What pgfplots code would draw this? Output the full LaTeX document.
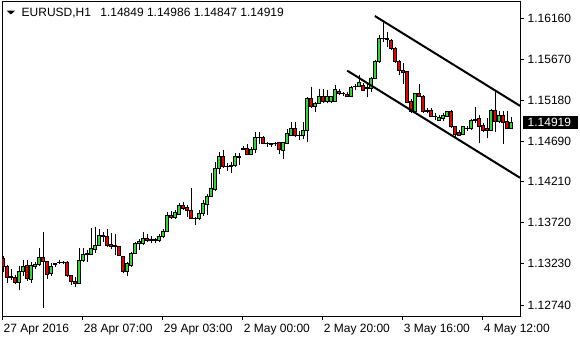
\documentclass[border=0pt]{standalone}
\usepackage{pgfplots}
\pgfplotsset{compat=1.18}
\usepackage{pgfplotstable}
\usepackage{fontspec}
\setmainfont{Liberation Sans}
\definecolor{bullc}{RGB}{50,215,50}
\definecolor{bearc}{RGB}{235,0,0}
\pgfplotsset{
  bull/.style={draw=black, fill=bullc, line width=0.8bp, solid},
  bear/.style={draw=black, fill=bearc, line width=0.8bp, solid},
}
\pgfplotstableread{
k O H L C
0 1.13300 1.13324 1.13133 1.13205
1 1.13205 1.13217 1.13002 1.13073
2 1.13073 1.13169 1.13038 1.13079
3 1.13073 1.13097 1.12990 1.13014
4 1.13014 1.13205 1.12918 1.13139
5 1.13139 1.13276 1.13085 1.13205
6 1.13217 1.13276 1.13026 1.13061
7 1.13050 1.13252 1.13002 1.13217
8 1.13205 1.13252 1.13169 1.13228
9 1.13223 1.13419 1.13205 1.13312
10 1.13306 1.13610 1.12704 1.13258
11 1.13258 1.13264 1.13050 1.13109
12 1.13121 1.13240 1.13085 1.13205
13 1.13228 1.13246 1.13193 1.13234
14 1.13252 1.13276 1.13228 1.13246
15 1.13246 1.13270 1.13234 1.13252
16 1.13252 1.13264 1.13079 1.13091
17 1.13091 1.13103 1.12978 1.13020
18 1.13026 1.13073 1.12948 1.13002
19 1.13002 1.13425 1.12990 1.13276
20 1.13270 1.13419 1.13252 1.13348
21 1.13348 1.13401 1.13252 1.13360
22 1.13342 1.13652 1.13336 1.13416
23 1.13401 1.13670 1.13360 1.13455
24 1.13449 1.13640 1.13443 1.13574
25 1.13563 1.13610 1.13491 1.13568
26 1.13554 1.13646 1.13435 1.13455
27 1.13467 1.13598 1.13407 1.13443
28 1.13443 1.13586 1.13336 1.13447
29 1.13435 1.13443 1.13324 1.13336
30 1.13316 1.13324 1.13118 1.13137
31 1.13137 1.13256 1.13085 1.13237
32 1.13217 1.13375 1.13196 1.13356
33 1.13356 1.13494 1.13348 1.13475
34 1.13475 1.13523 1.13396 1.13494
35 1.13475 1.13610 1.13455 1.13535
36 1.13535 1.13583 1.13487 1.13506
37 1.13521 1.13566 1.13475 1.13515
38 1.13515 1.13535 1.13475 1.13518
39 1.13506 1.13583 1.13494 1.13563
40 1.13554 1.13642 1.13539 1.13622
41 1.13622 1.13852 1.13614 1.13813
42 1.13813 1.13864 1.13765 1.13786
43 1.13786 1.13873 1.13765 1.13840
44 1.13821 1.13960 1.13813 1.13932
45 1.13932 1.13965 1.13873 1.13893
46 1.13900 1.13932 1.13793 1.13864
47 1.13873 1.14132 1.13762 1.13774
48 1.13777 1.13795 1.13694 1.13771
49 1.13774 1.13873 1.13753 1.13833
50 1.13831 1.13986 1.13801 1.13956
51 1.13944 1.14058 1.13813 1.14034
52 1.14031 1.14314 1.14028 1.14132
53 1.14120 1.14445 1.14103 1.14370
54 1.14370 1.14568 1.14302 1.14517
55 1.14517 1.14589 1.14374 1.14389
56 1.14392 1.14433 1.14342 1.14398
57 1.14389 1.14449 1.14318 1.14410
58 1.14401 1.14549 1.14389 1.14509
59 1.14501 1.14549 1.14410 1.14517
60 1.14594 1.14636 1.14589 1.14606
61 1.14609 1.14660 1.14529 1.14537
62 1.14537 1.14628 1.14525 1.14597
63 1.14597 1.14800 1.14549 1.14740
64 1.14738 1.14800 1.14660 1.14744
65 1.14740 1.14756 1.14657 1.14668
66 1.14672 1.14688 1.14628 1.14668
67 1.14660 1.14676 1.14628 1.14664
68 1.14664 1.14688 1.14636 1.14672
69 1.14676 1.14688 1.14541 1.14597
70 1.14580 1.14688 1.14478 1.14676
71 1.14668 1.14835 1.14660 1.14788
72 1.14767 1.14919 1.14759 1.14847
73 1.14847 1.14919 1.14747 1.14767
74 1.14767 1.14819 1.14708 1.14764
75 1.14767 1.14926 1.14716 1.14819
76 1.14819 1.15217 1.14688 1.15205
77 1.15205 1.15337 1.15090 1.15105
78 1.15105 1.15165 1.15045 1.15146
79 1.15146 1.15316 1.15137 1.15224
80 1.15224 1.15316 1.15153 1.15165
81 1.15165 1.15304 1.15146 1.15224
82 1.15165 1.15233 1.15153 1.15224
83 1.15165 1.15364 1.15161 1.15316
84 1.15292 1.15316 1.15245 1.15265
85 1.15265 1.15284 1.15236 1.15263
86 1.15253 1.15284 1.15224 1.15233
87 1.15224 1.15352 1.15217 1.15332
88 1.15344 1.15376 1.15304 1.15348
89 1.15344 1.15483 1.15336 1.15391
90 1.15364 1.15391 1.15296 1.15304
91 1.15328 1.15403 1.15217 1.15334
92 1.15325 1.15463 1.15284 1.15444
93 1.15444 1.15662 1.15436 1.15642
94 1.15642 1.15960 1.15630 1.15921
95 1.15919 1.16139 1.15877 1.15925
96 1.15919 1.15996 1.15821 1.15907
97 1.15901 1.15909 1.15782 1.15802
98 1.15802 1.15821 1.15630 1.15642
99 1.15642 1.15662 1.15483 1.15535
100 1.15535 1.15623 1.15376 1.15511
101 1.15523 1.15535 1.15146 1.15153
102 1.15165 1.15193 1.15026 1.15045
103 1.15045 1.15272 1.15034 1.15265
104 1.15265 1.15376 1.15221 1.15224
105 1.15233 1.15245 1.15034 1.15045
106 1.15057 1.15086 1.15026 1.15054
107 1.15057 1.15086 1.14986 1.14994
108 1.14994 1.15026 1.14946 1.14991
109 1.14946 1.15006 1.14938 1.14979
110 1.14967 1.15033 1.14938 1.15006
111 1.14994 1.15057 1.14986 1.15045
112 1.15045 1.15066 1.14847 1.14866
113 1.14866 1.14875 1.14728 1.14779
114 1.14795 1.14827 1.14756 1.14767
115 1.14779 1.14875 1.14767 1.14866
116 1.14847 1.14875 1.14819 1.14851
117 1.14847 1.14955 1.14827 1.14938
118 1.14938 1.15105 1.14907 1.14955
119 1.14967 1.15006 1.14676 1.14875
120 1.14887 1.14907 1.14807 1.14819
121 1.14847 1.14967 1.14728 1.14819
122 1.14827 1.15074 1.14819 1.15057
123 1.15057 1.15284 1.14807 1.14926
124 1.14926 1.15057 1.14907 1.15006
125 1.15006 1.15057 1.14660 1.14914
126 1.14926 1.15057 1.14835 1.14847
127 1.14849 1.14986 1.14847 1.14919
}\ohlc
\begin{document}
\fontsize{12bp}{14bp}\selectfont
\begin{tikzpicture}
\useasboundingbox (0,0) rectangle (580bp,340bp);
\begin{axis}[
  at={(2.5bp,24bp)}, anchor=south west, scale only axis,
  width=517.5bp, height=314.5bp,
  xmin=-0.2, xmax=129.2, ymin=1.12608, ymax=1.16360,
  clip mode=individual,
  axis line style={black, line width=0.8bp},
  tick style={black, line width=0.8bp},
  major tick length=4bp, tick align=outside,
  xtick pos=bottom, ytick pos=right, yticklabel pos=right,
  xtick={-0.15,19.9,39.9,59.9,79.9,99.9,119.9},
  xticklabels={27 Apr 2016,28 Apr 07:00,29 Apr 03:00,2 May 00:00,2 May 20:00,3 May 16:00,4 May 12:00},
  ytick={1.1274,1.1323,1.1372,1.1421,1.1469,1.1518,1.1567,1.1616},
  yticklabels={1.12740,1.13230,1.13720,1.14210,1.14690,1.15180,1.15670,1.16160},
  every tick label/.append style={font=\fontsize{12bp}{14bp}\selectfont},
  xticklabel style={anchor=north west, inner sep=0pt, xshift=0.8bp, yshift=-3.5bp},
  yticklabel style={anchor=west, inner sep=0pt, xshift=3.5bp},
]
\pgfplotsinvokeforeach{0,...,127}{%
  \pgfplotstablegetelem{#1}{O}\of\ohlc\edef\vO{\pgfplotsretval}%
  \pgfplotstablegetelem{#1}{H}\of\ohlc\edef\vH{\pgfplotsretval}%
  \pgfplotstablegetelem{#1}{L}\of\ohlc\edef\vL{\pgfplotsretval}%
  \pgfplotstablegetelem{#1}{C}\of\ohlc\edef\vC{\pgfplotsretval}%
  \pgfmathsetmacro\xa{#1-0.4}\pgfmathsetmacro\xb{#1+0.4}%
  \ifdim\vC pt<\vO pt
    \def\candstyle{bear}\edef\vlo{\vC}\edef\vhi{\vO}%
  \else
    \def\candstyle{bull}\edef\vlo{\vO}\edef\vhi{\vC}%
  \fi
  \edef\tmp{\noexpand\addplot[black, line width=0.8bp] coordinates {(#1,\vL) (#1,\vH)};
    \noexpand\addplot[\candstyle] coordinates {(\xa,\vlo) (\xb,\vlo) (\xb,\vhi) (\xa,\vhi)} -- cycle;}%
  \tmp
}
\addplot[black, line width=2bp] coordinates {(92.9,1.16187) (129.2,1.15115)};
\addplot[black, line width=2bp] coordinates {(86.0,1.15535) (129.2,1.14257)};
\node[anchor=west, fill=black, inner sep=0pt, minimum width=55bp, minimum height=13.4bp, xshift=3bp] at (axis cs:129.2,1.14919) {};
\node[anchor=west, text=white, inner sep=0pt, xshift=7.5bp] at (axis cs:129.2,1.14919) {1.14919};
\end{axis}
\fill[black] (6.7bp,329.3bp) -- (15bp,329.3bp) -- (10.85bp,325.5bp) -- cycle;
\node[anchor=base west, inner sep=0pt] at (21.5bp,323.3bp) {EURUSD,H1\hspace{6bp} 1.14849 1.14986 1.14847 1.14919};
\end{tikzpicture}
\end{document}
